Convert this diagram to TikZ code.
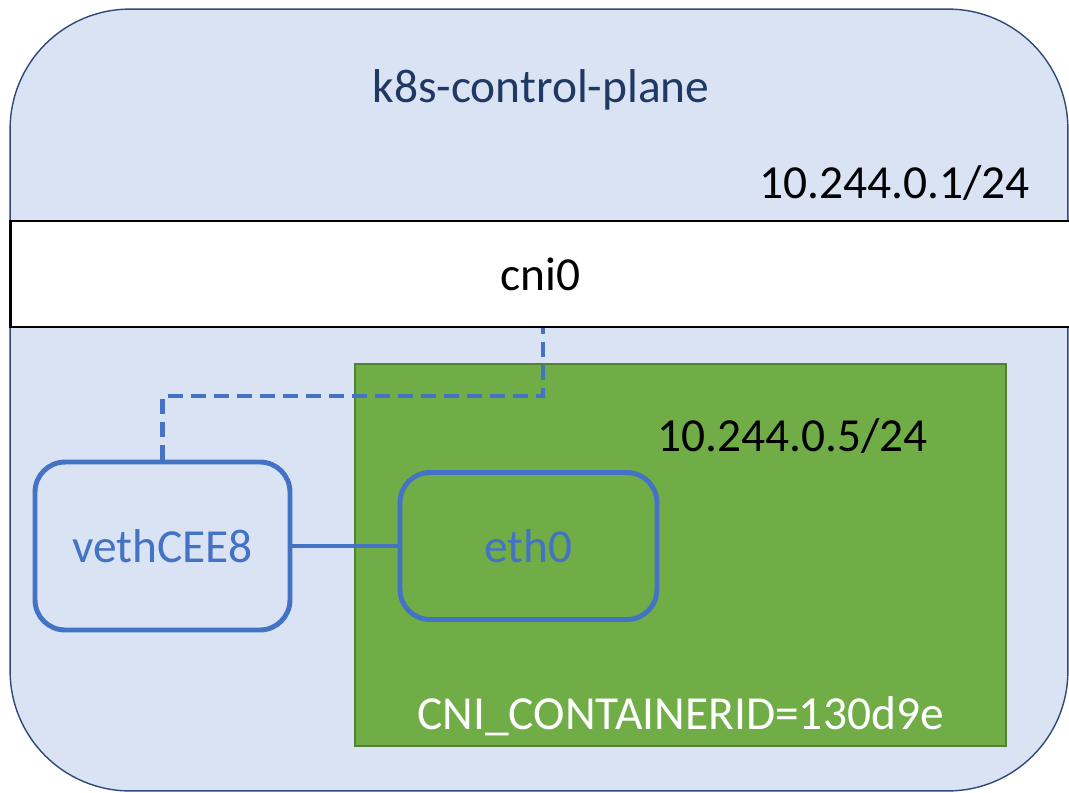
\documentclass[tikz,border=0pt]{standalone}
\usepackage{fontspec}
\setmainfont{Carlito}
\usepackage{tikz}
\usetikzlibrary{calc,positioning}
\definecolor{hostfill}{HTML}{DAE3F3}
\definecolor{hostline}{HTML}{2F4A7A}
\definecolor{hosttext}{HTML}{203864}
\definecolor{nsfill}{HTML}{70AD47}
\definecolor{nsline}{HTML}{548235}
\definecolor{ifblue}{HTML}{4472C4}
\tikzset{
  host box/.style={rectangle,draw=hostline,fill=hostfill,line width=0.8pt,
    rounded corners=2.4cm,inner sep=0pt},
  bridge box/.style={rectangle,draw=black,fill=white,line width=1.6pt,
    inner sep=0pt,font=\fontsize{27}{32}\selectfont},
  netns box/.style={rectangle,draw=nsline,fill=nsfill,line width=0.9pt,
    inner sep=0pt},
  iface box/.style={rectangle,draw=ifblue,line width=2.8pt,rounded corners=0.6cm,
    inner sep=0pt,text=ifblue,font=\fontsize{27}{32}\selectfont},
  big label/.style={inner sep=0pt,font=\fontsize{27}{32}\selectfont},
  veth link/.style={draw=ifblue,line width=2.8pt},
  bridge link/.style={draw=ifblue,line width=2.6pt,dash pattern=on 0.3cm off 0.16cm}
}
\begin{document}
\begin{tikzpicture}[x=0.02cm,y=-0.02cm]
    \useasboundingbox (0,0) rectangle (1069,792);
    \coordinate (hostc) at (539,400);
    \coordinate (bridgec) at (540.5,274);
    \coordinate (netnsc) at (680.5,555);
    \coordinate (vethc) at (162.5,546);
    \coordinate (ethc) at (528.5,546);
    \node[host box,minimum width=21.16cm,minimum height=15.64cm] (host) at (hostc) {};
    \node[big label,text=hosttext] (hostname) at (541,90) {k8s-control-plane};
    \node[big label,anchor=east] (hostip) at (1030,183) {10.244.0.1/24};
    \node[bridge box,minimum width=21.22cm,minimum height=2.12cm] (bridge) at (bridgec) {cni0};
    \node[netns box,minimum width=13.02cm,minimum height=7.64cm] (netns) at (netnsc) {};
    \node[big label,anchor=east] (nsip) at (928,436) {10.244.0.5/24};
    \node[big label,text=white] (nsid) at (680.5,716) {CNI\_CONTAINERID=130d9e};
    \node[iface box,minimum width=5.1cm,minimum height=3.36cm] (veth) at (vethc) {vethCEE8};
    \node[iface box,minimum width=5.14cm,minimum height=2.94cm] (eth) at (ethc) {eth0};
    % links
    \coordinate (bend) at (543,396);
    \draw[veth link] (veth) -- (eth);
    \draw[bridge link] (veth.north) |- (bend) -- (bend |- bridge.south);
  \end{tikzpicture}
\end{document}
